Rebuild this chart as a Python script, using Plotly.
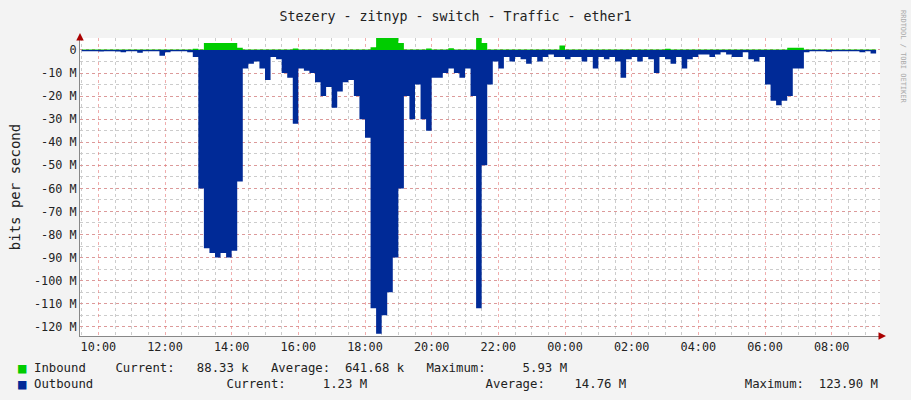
import plotly.graph_objects as go
import pandas as pd

start = "2024-01-01 09:30"
outbound_m = [0.5,0.5,0.5,0.6,0.5,0.5, 0.6,1,0.5,0.5,1.2,0.5, 0.5,0.5,2.5,1,0.5,0.5,
              0.5,1,3,60,86,88, 90,88,90,87,57,8, 6,5,8,13,3,4, 10,12,32,8,9,10,
              14,20,16,25,18,14, 13,20,30,38,112,123, 115,105,90,60,20,30,
              15,30,35,12,12,10, 8,10,12,8,20,112, 50,15,5,8,3,5, 3,4,6,3,5,3,
              2,3,3,4,3,3, 5,3,8,3,4,3, 5,12,4,3,5,3, 4,10,3,4,6,3, 8,4,3,2,2,3,
              2,1,2,3,3,1, 4,5,3,15,22,24, 22,20,8,8,1,0.5, 0.5,0.5,0.8,0.5,0.5,0.5,
              0.5,0.5,1,0.5,1.5,1.2]
inbound_m = [0.2]*144
for i, v in {20:0.5, 22:3, 23:3, 24:3, 25:3, 26:3, 27:3, 28:1, 38:0.6, 52:1.2, 53:5.5, 54:5.5,
             55:5.5, 56:5.2, 57:3, 62:0.6, 66:0.8, 71:5.9, 72:3, 86:2, 105:0.5, 127:1, 128:1, 129:1}.items():
    inbound_m[i] = v

times = pd.date_range(start, periods=len(outbound_m), freq="10min")
out_vals = [-v*1e6 for v in outbound_m]
in_vals = [v*1e6 for v in inbound_m]

fig = go.Figure()
fig.add_trace(go.Scatter(x=times, y=out_vals, mode="lines", line=dict(shape="hv", width=0, color="#002A97"),
                         fill="tozeroy", fillcolor="#002A97"))
fig.add_trace(go.Scatter(x=times, y=in_vals, mode="lines", line=dict(shape="hv", width=0, color="#00CC00"),
                         fill="tozeroy", fillcolor="#00CC00"))

L, R, T, B = 80, 31, 38, 64
PW, PH = 911 - L - R, 400 - T - B
def px(xp): return (xp - L) / PW
def py(yp): return (400 - B - yp) / PH

yt = [i*-10e6 for i in range(13)]
ytl = ["0"] + [f"-{i*10} M" for i in range(1, 13)]
fig.update_layout(
    width=911, height=400, paper_bgcolor="#F3F3F3", plot_bgcolor="white",
    margin=dict(l=L, r=R, t=T, b=B, autoexpand=False), showlegend=False,
    font=dict(family="DejaVu Sans Mono", size=11.8, color="#222"),
    title=dict(text="Stezery - zitnyp - switch - Traffic - ether1", x=0.5, y=0.97, xanchor="center",
               font=dict(size=13.3)),
    xaxis=dict(type="date", range=["2024-01-01 09:27", "2024-01-02 09:27"], tick0="2024-01-01 10:00",
               dtick=7200000, tickformat="%H:%M", showgrid=True, gridcolor="rgba(230,120,120,0.6)",
               griddash="dot", ticks="", zeroline=False, showline=True, linecolor="#888",
               minor=dict(dtick=1800000, showgrid=True, gridcolor="#ccc", griddash="dot")),
    yaxis=dict(range=[-124e6, 5.2e6], tickvals=yt, ticktext=ytl, showgrid=True,
               gridcolor="rgba(230,120,120,0.6)", griddash="dot", zeroline=False, ticks="",
               showline=True, linecolor="#888",
               minor=dict(dtick=5e6, tick0=0, showgrid=True, gridcolor="#ccc", griddash="dot"),
               title=dict(text="bits per second", standoff=10)),
)
fig.add_annotation(text="RRDTOOL / TOBI OETIKER", textangle=90, x=px(903), y=py(8), xref="paper", yref="paper",
                   xanchor="center", yanchor="top", showarrow=False, font=dict(size=7, color="#aaa"))
fig.add_annotation(x=px(886), y=0, xref="paper", yref="paper", ax=-6, ay=0, showarrow=True,
                   arrowhead=2, arrowsize=1, arrowwidth=1.5, arrowcolor="#A00", text="")
fig.add_annotation(x=0, y=py(33), xref="paper", yref="paper", ax=0, ay=6, showarrow=True,
                   arrowhead=2, arrowsize=1, arrowwidth=1.5, arrowcolor="#A00", text="")

legend_rows = [
    ("#00CC00", "Inbound    Current:   88.33 k   Average:  641.68 k   Maximum:     5.93 M", 368),
    ("#002A97", "Outbound                  Current:     1.23 M                Average:    14.76 M                Maximum:  123.90 M", 384),
]
for col, txt, ypx in legend_rows:
    fig.add_annotation(x=px(16), y=py(ypx), xref="paper", yref="paper", text="■", showarrow=False,
                       xanchor="left", yanchor="middle", font=dict(size=14, color=col))
    fig.add_annotation(x=px(32), y=py(ypx), xref="paper", yref="paper", text=txt.replace(" ", "&nbsp;"),
                       showarrow=False, xanchor="left", yanchor="middle", font=dict(size=12.3, color="#222"))

fig.write_html("out.html", config={"displayModeBar": False},
               post_script="document.body.style.margin='0';document.body.style.background='#F3F3F3';")
